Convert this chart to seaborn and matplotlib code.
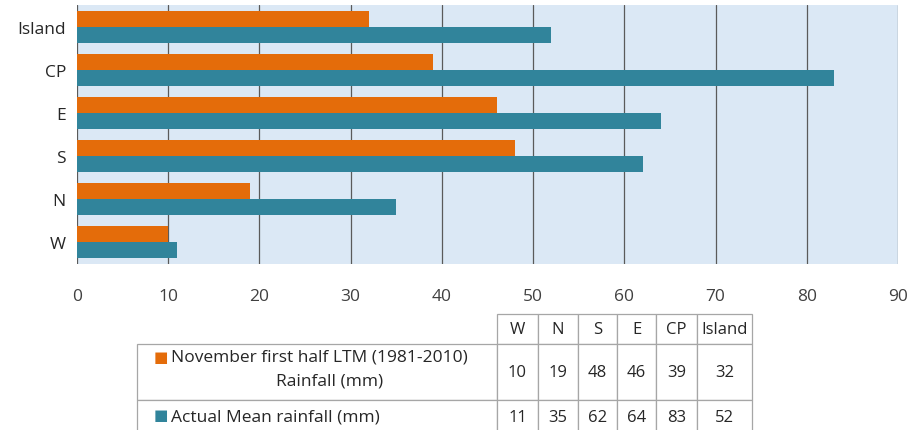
import pandas as pd
import matplotlib
matplotlib.use("Agg")
import matplotlib.pyplot as plt
import seaborn as sns

# veriler
regions = ["W", "N", "S", "E", "CP", "Island"]
ltm_rainfall = [10, 19, 48, 46, 39, 32]
actual_rainfall = [11, 35, 62, 64, 83, 52]
ltm_label = "November first half LTM (1981-2010)\nRainfall (mm)"
actual_label = "Actual Mean rainfall (mm)"
x_ticks = [0, 10, 20, 30, 40, 50, 60, 70, 80, 90]

orange = "#E46C0A"
teal = "#31849B"

df = pd.DataFrame({
    "region": regions * 2,
    "series": [ltm_label] * len(regions) + [actual_label] * len(regions),
    "value": ltm_rainfall + actual_rainfall,
})

sns.set_style("white")
plt.rcParams["font.family"] = ["Open Sans", "DejaVu Sans"]

fig = plt.figure(figsize=(9.16, 4.31), dpi=100)
ax = fig.add_axes([77 / 916, 1 - 265 / 431, (898 - 77) / 916, (265 - 6) / 431])

sns.barplot(data=df, y="region", x="value", hue="series", orient="h",
            order=regions[::-1], hue_order=[ltm_label, actual_label],
            palette=[orange, teal], saturation=1, width=0.74,
            linewidth=0, legend=False, ax=ax)

ax.set_facecolor("#dbe8f5")
ax.set_xlim(0, 90)
ax.set_xticks(x_ticks)
ax.grid(axis="x", color="#5a5a5a", linewidth=0.9)
ax.grid(axis="y", visible=False)
ax.set_axisbelow(True)
for s in ax.spines.values():
    s.set_visible(False)
ax.set_xlabel("")
ax.set_ylabel("")
ax.tick_params(axis="x", length=0, pad=17.5, labelsize=12.5, labelcolor="#404040")
ax.tick_params(axis="y", length=0, pad=8, labelsize=12.5, labelcolor="#262626")

# veri tablosu
ax_t = fig.add_axes([137 / 916, 1 - 434 / 431, (752 - 137) / 916, (434 - 315) / 431])
ax_t.axis("off")
ax_t.set_xlim(0, 1)
ax_t.set_ylim(0, 1)

col_px = [360, 41, 40, 39, 39, 41, 55]
row_px = [30, 56, 33]
cell_text = [[""] + [str(v) for v in ltm_rainfall],
             [""] + [str(v) for v in actual_rainfall]]
tbl = ax_t.table(cellText=cell_text, colLabels=[""] + regions,
                 colWidths=[w / sum(col_px) for w in col_px],
                 cellLoc="center", bbox=[0, 0, 1, 1])
tbl.auto_set_font_size(False)
tbl.set_fontsize(12)

for (r, c), cell in tbl.get_celld().items():
    cell.set_edgecolor("#a6a6a6")
    cell.set_linewidth(0.9)
    cell.set_height(row_px[r] / sum(row_px))
    cell.get_text().set_color("#262626")
tbl[0, 0].visible_edges = ""

# satır etiketleri (renkli kare ile)
h_tot = sum(row_px)
x0 = 17 / 615
y1 = 1 - (row_px[0] + 13) / h_tot
y2 = 1 - (row_px[0] + 37) / h_tot
y3 = 1 - (row_px[0] + row_px[1] + 16) / h_tot
ax_t.text(x0, y1, "\u25A0", color=orange, fontsize=11, va="center", ha="left")
ax_t.text(x0 + 17 / 615, y1, "November first half LTM (1981-2010)", color="#262626",
          fontsize=12.5, va="center", ha="left")
ax_t.text(193 / 615, y2, "Rainfall (mm)", color="#262626", fontsize=12.5,
          va="center", ha="center")
ax_t.text(x0, y3, "\u25A0", color=teal, fontsize=11, va="center", ha="left")
ax_t.text(x0 + 17 / 615, y3, "Actual Mean rainfall (mm)", color="#262626",
          fontsize=12.5, va="center", ha="left")

plt.savefig("out.png", dpi=100)
